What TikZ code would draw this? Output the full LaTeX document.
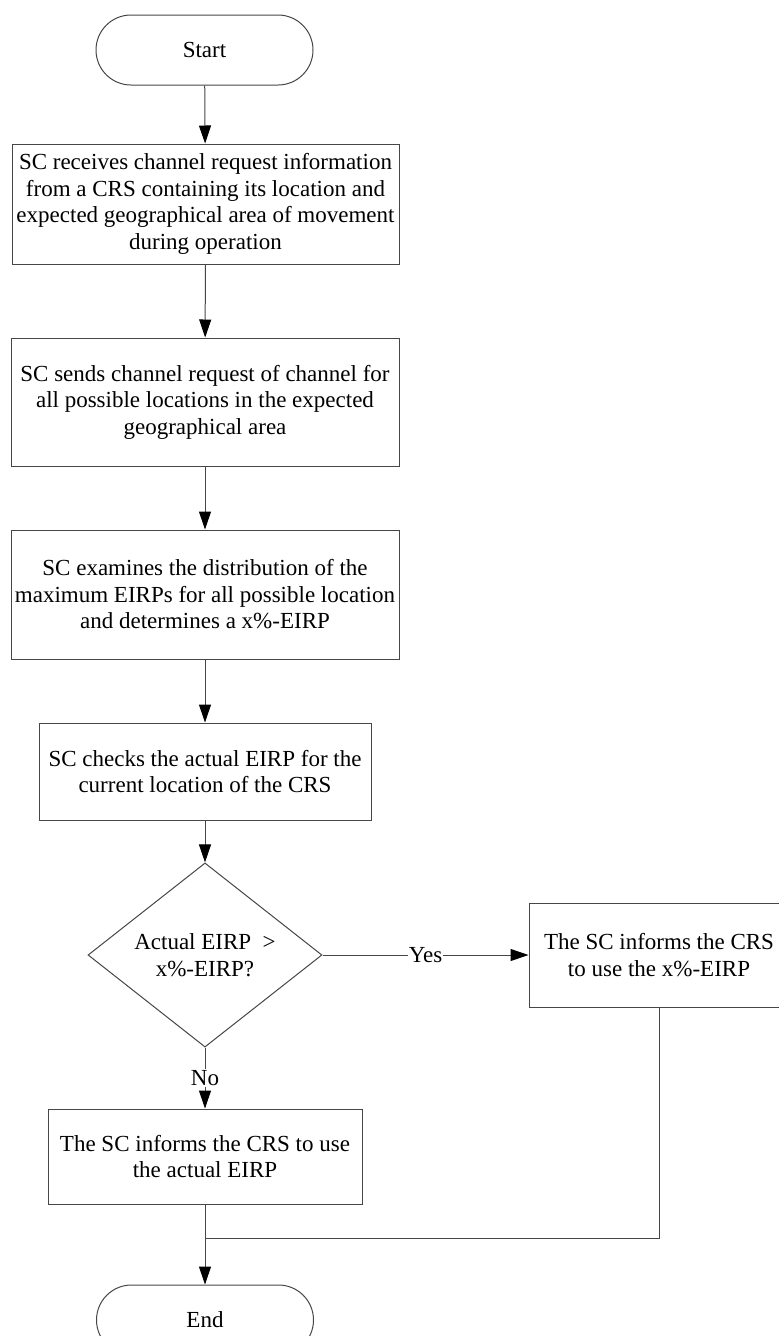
\documentclass[tikz,border=0pt]{standalone}
\usepackage{fontspec}
\setmainfont{Liberation Serif}
\usetikzlibrary{shapes.geometric,arrows.meta}
\definecolor{ln}{RGB}{70,70,70}
\begin{document}
\begin{tikzpicture}[x=1pt,y=-1pt,
  every node/.style={font=\fontsize{23}{26.5}\selectfont},
  proc/.style={draw=ln,line width=1pt,align=center,inner sep=0pt},
  term/.style={draw=ln,line width=1pt,rounded corners=35pt,minimum width=217pt,minimum height=70pt,inner sep=0pt},
  dec/.style={diamond,draw=ln,line width=1pt,minimum width=234pt,minimum height=128pt,inner sep=0pt,align=center},
  arr/.style={draw=ln,line width=1pt,-{Triangle[length=18pt,width=12pt,color=black]}},
  conn/.style={draw=ln,line width=1pt},
  lbl/.style={fill=white,inner sep=1pt}]
\useasboundingbox (0,0) rectangle (779,1336);

\node[term] (start) at (204.5,50) {Start};
\node[proc,minimum width=387pt,minimum height=120pt] (b1) at (205.5,204)
  {SC receives channel request information\\from a CRS containing its location and\\expected geographical area of movement\\during operation};
\node[proc,minimum width=388pt,minimum height=128pt] (b2) at (205,402)
  {SC sends channel request of channel for\\all possible locations in the expected\\geographical area};
\node[proc,minimum width=388pt,minimum height=129pt] (b3) at (205,594.5)
  {SC examines the distribution of the\\maximum EIRPs for all possible location\\and determines a x\%-EIRP};
\node[proc,minimum width=332pt,minimum height=97pt] (b4) at (205,771.5)
  {SC checks the actual EIRP for the\\current location of the CRS};
\node[dec] (d) at (205,955) {Actual EIRP\ \ >\\x\%-EIRP?};
\node[proc,minimum width=260pt,minimum height=104pt] (yb) at (659,955)
  {The SC informs the CRS\\to use the x\%-EIRP};
\node[proc,minimum width=314pt,minimum height=95pt] (b5) at (205,1156.5)
  {The SC informs the CRS to use\\the actual EIRP};
\node[term] (end) at (205,1320) {End};
\coordinate (join) at (205,1238);

\draw[arr] (start) -- (b1);
\draw[arr] (b1) -- (b2);
\draw[arr] (b2) -- (b3);
\draw[arr] (b3) -- (b4);
\draw[arr] (b4) -- (d);
\draw[arr] (d.east) -- node[lbl] (yes) {Yes} (yb.west);
\draw[arr] (d.south) -- node[lbl] (no) {No} (b5.north);
\draw[conn] (yb.south) |- (join);
\draw[arr] (b5) -- (end);
\end{tikzpicture}
\end{document}
